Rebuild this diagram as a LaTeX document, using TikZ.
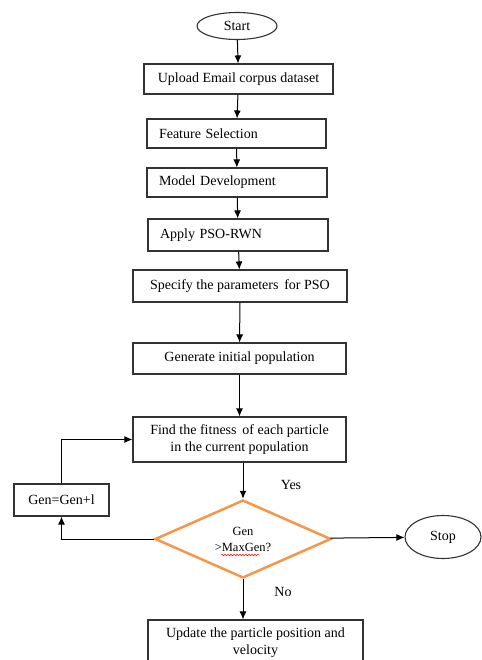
\documentclass[tikz,border=0pt]{standalone}
\usepackage{fontspec}
\setmainfont{Liberation Serif}
\usetikzlibrary{arrows.meta,shapes.geometric,decorations.pathmorphing}
\definecolor{diaorange}{RGB}{247,150,70}

\begin{document}
\begin{tikzpicture}[>={Latex[length=8pt,width=7pt]}, x=1pt, y=-1pt,
    font=\fontsize{14}{16.5}\selectfont,
    box/.style={shape=rectangle, draw=black!80, line width=1.1pt, align=center},
    lbox/.style={box, align=left, inner xsep=12pt},
    term/.style={shape=ellipse, draw=black!80, line width=1.1pt, inner sep=0pt},
    test/.style={shape=diamond, draw=diaorange, line width=2.5pt, inner sep=0pt,
                 aspect=2.3, align=center, font=\fontsize{12.5}{16}\selectfont},
    flow/.style={->, line width=1pt}]

  \useasboundingbox (0,0) rectangle (481,660);

  \node (start) at (237,26) [term, minimum width=80, minimum height=27] {Start};
  \node (upload) at (238.5,79) [box, minimum width=189, minimum height=30] {Upload Email corpus dataset};
  \node (feat) at (236.5,133.5) [lbox, text width=155, minimum height=29] {Feature Selection};
  \node (model) at (237,182.5) [lbox, text width=156, minimum height=29] {Model Development};
  \node (apply) at (238,235) [lbox, text width=156, minimum height=32] {Apply PSO-RWN};
  \node (spec) at (240,286) [box, minimum width=214, minimum height=32] {Specify the parameters\, for PSO};
  \node (init) at (239.5,358.5) [box, minimum width=213, minimum height=31] {Generate initial population};
  \node (fit) at (239.5,439.5) [box, minimum width=213, minimum height=45] {Find the fitness\, of each particle\\in the current population};
  \node (dec) at (243,539) [test, minimum width=176, minimum height=78] {Gen\\>MaxGen?};
  \node (upd) at (255.5,642.5) [box, minimum width=215, minimum height=45] {Update the particle position and\\velocity};
  \node (inc) at (61.5,500) [box, minimum width=95, minimum height=32] {Gen=Gen+l};
  \node (stop) at (443,537) [term, minimum width=76, minimum height=43] {Stop};

  \node (yes) at (291,485) {Yes};
  \node (no) at (283,592) {No};

  \draw [flow] (start) -- (upload);
  \draw [flow] (upload) -- (feat);
  \draw [flow] (feat) -- (model);
  \draw [flow] (model) -- (apply);
  \draw [flow] (apply) -- (spec);
  \draw [flow] (spec) -- (init);
  \draw [flow] (init) -- (fit);
  \draw [flow] (fit.south -| dec.north) -- (dec.north);
  \draw [flow] (dec.south) -- (dec.south |- upd.north);
  \draw [flow] (dec) -- (stop);
  \draw [flow] (dec.west) -| (inc);
  \draw [flow] (inc) |- (fit);

  % spell-check mark under MaxGen
  \coordinate (sqa) at (221,555);
  \coordinate (sqb) at (260,555);
  \draw [red, line width=0.5pt, decorate, decoration={snake, amplitude=0.8pt, segment length=3pt}] (sqa) -- (sqb);
\end{tikzpicture}
\end{document}
